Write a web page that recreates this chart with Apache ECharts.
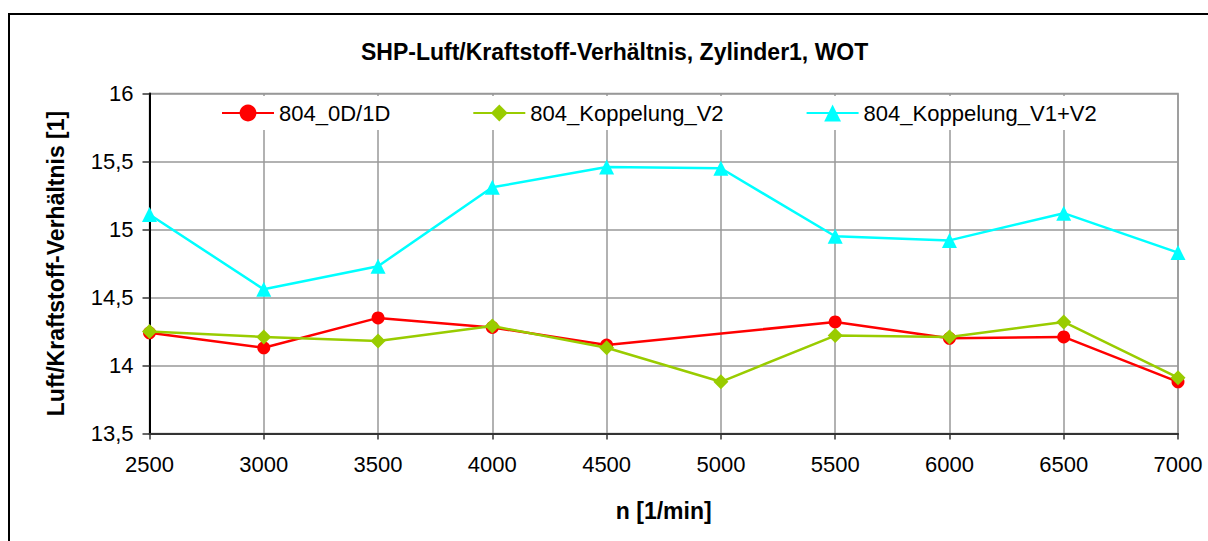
<!DOCTYPE html>
<html>
<head>
<meta charset="utf-8">
<script src="https://cdn.jsdelivr.net/npm/echarts@6/dist/echarts.min.js"></script>
<style>
html,body{margin:0;padding:0;background:#fff;}
#chart{width:1208px;height:541px;}
</style>
</head>
<body>
<div id="chart"></div>
<script>
const titleText = 'SHP-Luft/Kraftstoff-Verhältnis, Zylinder1, WOT';
const xName = 'n [1/min]';
const yName = 'Luft/Kraftstoff-Verhältnis [1]';
const rpm = [2500, 3000, 3500, 4000, 4500, 5000, 5500, 6000, 6500, 7000];
const seriesNames = ['804_0D/1D', '804_Koppelung_V2', '804_Koppelung_V1+V2'];
const s0D1D = [14.24, 14.13, 14.35, 14.28, 14.15, null, 14.32, 14.20, 14.21, 13.88];
const sV2 = [14.25, 14.21, 14.18, 14.29, 14.13, 13.88, 14.22, 14.21, 14.32, 13.91];
const sV1V2 = [15.11, 14.56, 14.73, 15.31, 15.46, 15.45, 14.95, 14.92, 15.12, 14.83];

const FONT = '"Liberation Sans", Arial, sans-serif';
const pairs = arr => rpm.map((x, i) => [x, arr[i]]);

const chart = echarts.init(document.getElementById('chart'), null, {renderer: 'svg'});
chart.setOption({
  backgroundColor: '#fff',
  animation: false,
  textStyle: {fontFamily: FONT},
  title: {
    text: titleText,
    left: 361,
    top: 40,
    padding: 0,
    textStyle: {fontFamily: FONT, fontSize: 23, fontWeight: 'bold', color: '#000'}
  },
  graphic: [{
    type: 'rect',
    shape: {x: 9, y: 14, width: 1400, height: 800},
    style: {fill: 'none', stroke: '#000', lineWidth: 2},
    silent: true,
    z: 100
  }],
  legend: {
    data: seriesNames,
    left: 152,
    top: 96,
    padding: [6, 60, 6, 69],
    itemGap: 82,
    itemWidth: 52,
    itemHeight: 21,
    backgroundColor: '#fff',
    textStyle: {fontFamily: FONT, fontSize: 22, color: '#000'}
  },
  grid: {left: 149.5, right: 30, top: 93.5, bottom: 107.5, show: true, borderColor: '#999', borderWidth: 1.5},
  xAxis: {
    type: 'value',
    min: 2500, max: 7000, interval: 500,
    name: xName,
    nameLocation: 'middle',
    nameGap: 66,
    nameTextStyle: {fontFamily: FONT, fontSize: 23, fontWeight: 'bold', color: '#000'},
    axisLine: {show: true, onZero: false, lineStyle: {color: '#333', width: 2}},
    axisTick: {show: true, inside: false, length: 6, lineStyle: {color: '#333', width: 1.5}},
    axisLabel: {fontFamily: FONT, fontSize: 22, color: '#000', margin: 20,
      formatter: v => String(v)},
    splitLine: {show: true, lineStyle: {color: '#999', width: 1.5}}
  },
  yAxis: {
    type: 'value',
    min: 13.5, max: 16, interval: 0.5,
    name: yName,
    nameLocation: 'middle',
    nameGap: 82,
    nameTextStyle: {fontFamily: FONT, fontSize: 23, fontWeight: 'bold', color: '#000'},
    axisLine: {show: true, lineStyle: {color: '#000', width: 2}},
    axisTick: {show: true, inside: false, length: 7, lineStyle: {color: '#333', width: 1.5}},
    axisLabel: {fontFamily: FONT, fontSize: 22, color: '#000', margin: 16,
      formatter: v => String(v).replace('.', ',')},
    splitLine: {show: true, lineStyle: {color: '#999', width: 1.5}}
  },
  series: [
    {
      name: seriesNames[0], type: 'line', data: pairs(s0D1D), connectNulls: true,
      symbol: 'circle', symbolSize: 13,
      lineStyle: {color: '#FF0000', width: 2.5},
      itemStyle: {color: '#FF0000'}, z: 3
    },
    {
      name: seriesNames[1], type: 'line', data: pairs(sV2),
      symbol: 'diamond', symbolSize: 15,
      lineStyle: {color: '#99CC00', width: 2.5},
      itemStyle: {color: '#99CC00'}, z: 4
    },
    {
      name: seriesNames[2], type: 'line', data: pairs(sV1V2),
      symbol: 'triangle', symbolSize: 15,
      lineStyle: {color: '#00FFFF', width: 2.5},
      itemStyle: {color: '#00FFFF'}, z: 5
    }
  ]
});
</script>
</body>
</html>
